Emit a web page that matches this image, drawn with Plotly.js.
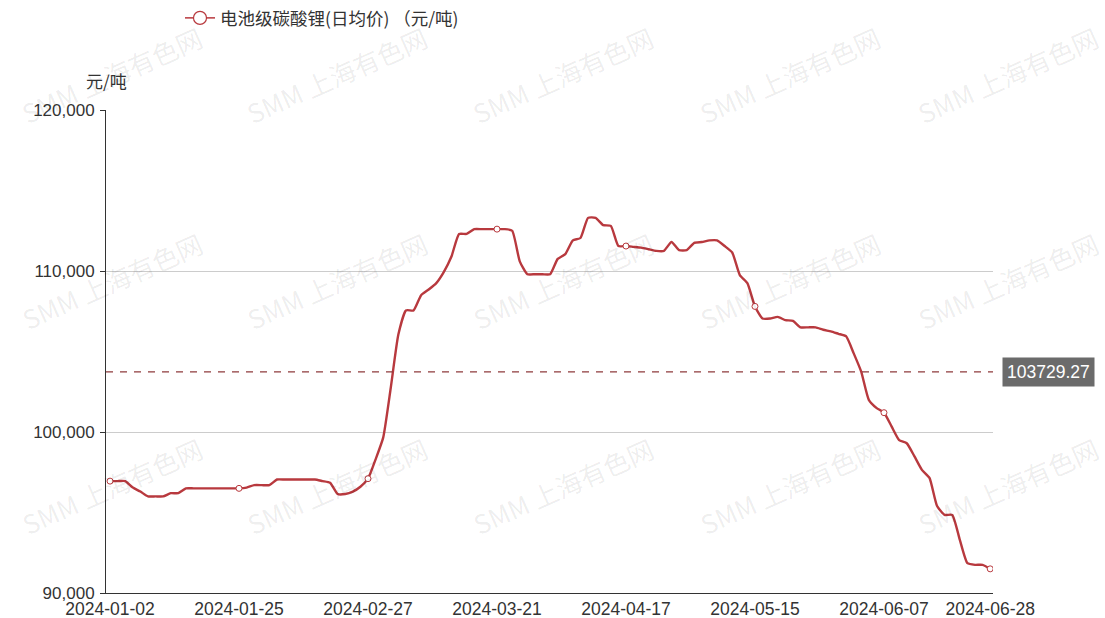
<!DOCTYPE html>
<html>
<head>
<meta charset="utf-8">
<script src="https://cdn.plot.ly/plotly-3.0.1.min.js"></script>
<style>
html,body{margin:0;padding:0;background:#fff;}
#chart{width:1105px;height:618px;}
</style>
</head>
<body>
<div id="chart"></div>
<script>
const seriesName = '电池级碳酸锂(日均价) （元/吨)';
const unitLabel = '元/吨';
const dates = ['2024-01-02','2024-01-03','2024-01-04','2024-01-05','2024-01-08','2024-01-09','2024-01-10','2024-01-11','2024-01-12','2024-01-15','2024-01-16','2024-01-17','2024-01-18','2024-01-19','2024-01-22','2024-01-23','2024-01-24','2024-01-25','2024-01-26','2024-01-29','2024-01-30','2024-01-31',
'2024-02-01','2024-02-02','2024-02-05','2024-02-06','2024-02-07','2024-02-08','2024-02-19','2024-02-20','2024-02-21','2024-02-22','2024-02-23','2024-02-26','2024-02-27','2024-02-28','2024-02-29',
'2024-03-01','2024-03-04','2024-03-05','2024-03-06','2024-03-07','2024-03-08','2024-03-11','2024-03-12','2024-03-13','2024-03-14','2024-03-15','2024-03-18','2024-03-19','2024-03-20','2024-03-21','2024-03-22','2024-03-25','2024-03-26','2024-03-27','2024-03-28','2024-03-29',
'2024-04-01','2024-04-02','2024-04-03','2024-04-08','2024-04-09','2024-04-10','2024-04-11','2024-04-12','2024-04-15','2024-04-16','2024-04-17','2024-04-18','2024-04-19','2024-04-22','2024-04-23','2024-04-24','2024-04-25','2024-04-26','2024-04-29','2024-04-30',
'2024-05-06','2024-05-07','2024-05-08','2024-05-09','2024-05-10','2024-05-13','2024-05-14','2024-05-15','2024-05-16','2024-05-17','2024-05-20','2024-05-21','2024-05-22','2024-05-23','2024-05-24','2024-05-27','2024-05-28','2024-05-29','2024-05-30','2024-05-31',
'2024-06-03','2024-06-04','2024-06-05','2024-06-06','2024-06-07','2024-06-11','2024-06-12','2024-06-13','2024-06-14','2024-06-17','2024-06-18','2024-06-19','2024-06-20','2024-06-21','2024-06-24','2024-06-25','2024-06-26','2024-06-27','2024-06-28'];
const prices = [96950,96950,96950,96550,96300,96000,96000,96000,96200,96200,96500,96500,96500,96500,96500,96500,96500,96500,96550,96700,96700,96700,
97050,97050,97050,97050,97050,97050,96950,96850,96150,96150,96300,96600,97100,98300,99650,
102750,106050,107550,107550,108500,108850,109250,109950,110900,112300,112300,112600,112600,112600,112600,112600,112500,110600,109800,109800,109800,
109800,110750,111050,111900,112050,113300,113300,112850,112800,111550,111550,111500,111450,111350,111250,111250,111800,111300,111300,111750,
111800,111900,111900,111550,111150,109750,109250,107800,107050,107050,107150,106950,106900,106500,106500,106500,106350,106250,106100,105950,
104900,103750,102000,101500,101200,100350,99500,99300,98500,97650,97150,95400,94850,94850,93300,91850,91750,91750,91500];
const tickDates = ['2024-01-02','2024-01-25','2024-02-27','2024-03-21','2024-04-17','2024-05-15','2024-06-07','2024-06-28'];
const yTicks = [90000,100000,110000,120000];
const yTickText = ['90,000','100,000','110,000','120,000'];
const avgValue = 103729.27;
const watermark = 'SMM 上海有色网';

const FONT = '"Noto Sans CJK SC", "Microsoft YaHei", sans-serif';
const NUMFONT = '"Liberation Sans", Arial, sans-serif';
const RED = '#b8393e';
const W = 1105, H = 618;
const L = 106, R = 112, T = 110, B = 25;
const pw = W - L - R, ph = H - T - B;

const markerY = tickDates.map(d => prices[dates.indexOf(d)]);

const traces = [
  {x: dates, y: prices, type: 'scatter', mode: 'lines', showlegend: false,
   line: {color: RED, width: 2.4, shape: 'spline', smoothing: 0.5}, hoverinfo: 'x+y'},
  {x: tickDates, y: markerY, type: 'scatter', mode: 'markers', showlegend: false,
   marker: {size: 6, color: '#fff', line: {color: RED, width: 1}}},
  {x: [null], y: [null], type: 'scatter', mode: 'lines+markers', name: seriesName, showlegend: true,
   line: {color: RED, width: 1.5}, marker: {size: 13, color: '#fff', line: {color: RED, width: 1.2}}}
];

const annotations = [
  {xref: 'paper', yref: 'paper', x: (106 - L) / pw, y: 1 + (T - 80) / ph, xanchor: 'center', yanchor: 'middle',
   text: unitLabel, showarrow: false, font: {family: FONT, size: 17, color: '#333'}},
  {xref: 'paper', yref: 'y', x: 1, y: avgValue, xanchor: 'left', yanchor: 'middle', xshift: 9,
   text: avgValue.toFixed(2), showarrow: false, bgcolor: '#6b6b6b', borderpad: 4,
   font: {family: NUMFONT, size: 17.5, color: '#fff'}}
];
const wmX = [112, 337, 563, 790, 1008];
const wmY = [75, 280, 485];
wmY.forEach(py => wmX.forEach(px => {
  annotations.push({xref: 'paper', yref: 'paper', x: (px - L) / pw, y: 1 - (py - T) / ph,
    xanchor: 'center', yanchor: 'middle', text: watermark, showarrow: false, textangle: -24,
    font: {family: FONT, size: 26, color: 'rgba(0,0,0,0.08)'}});
}));

const layout = {
  width: W, height: H,
  margin: {l: L, r: R, t: T, b: B, pad: 0},
  paper_bgcolor: '#fff', plot_bgcolor: '#fff',
  font: {family: FONT, size: 16, color: '#333'},
  showlegend: true,
  legend: {xref: 'container', yref: 'container', x: 180 / W, y: 1 - 18 / H, xanchor: 'left', yanchor: 'middle',
    orientation: 'h', font: {family: FONT, size: 17.5, color: '#333'}, bgcolor: 'rgba(0,0,0,0)'},
  xaxis: {type: 'category', range: [-0.53, 116.37], tickmode: 'array', tickvals: tickDates, ticktext: tickDates,
    showgrid: false, showline: true, linecolor: '#333', linewidth: 1, ticks: '', zeroline: false,
    ticklabelstandoff: 0,
    tickfont: {family: NUMFONT, size: 17.5, color: '#333'}, fixedrange: true},
  yaxis: {range: [90000, 120000], tickmode: 'array', tickvals: yTicks, ticktext: yTickText,
    showgrid: true, gridcolor: '#cccccc', gridwidth: 1, showline: true, linecolor: '#333', linewidth: 1,
    ticks: 'outside', ticklen: 5, tickcolor: '#333', zeroline: false, ticklabelstandoff: 2,
    tickfont: {family: NUMFONT, size: 17, color: '#333'}, fixedrange: true},
  shapes: [
    {type: 'line', xref: 'paper', yref: 'y', x0: 0, x1: 1, y0: avgValue, y1: avgValue,
     line: {color: '#8e3b3d', width: 1.2, dash: '7px,7px'}}
  ],
  annotations: annotations
};

Plotly.newPlot('chart', traces, layout, {displayModeBar: false, staticPlot: true});
</script>
</body>
</html>
